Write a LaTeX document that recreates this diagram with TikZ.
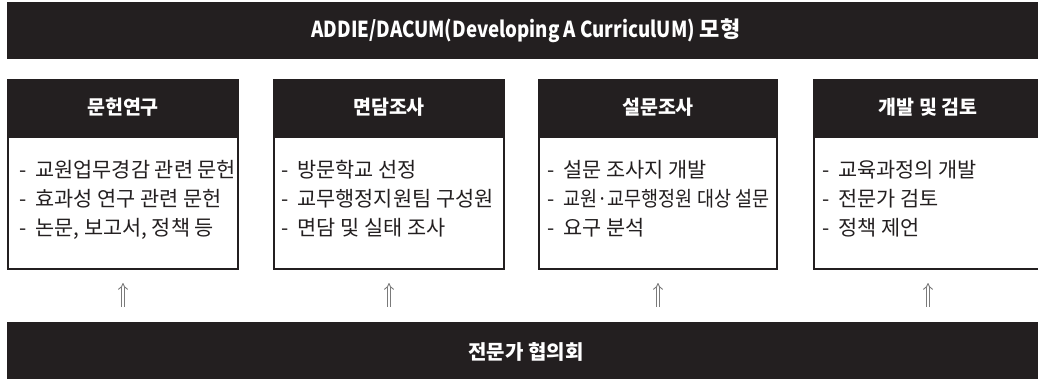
\documentclass[tikz,border=0pt]{standalone}
\usepackage{fontspec}
\usepackage{graphicx}
\setmainfont{Noto Sans CJK KR}
\usetikzlibrary{arrows.meta,calc}
\definecolor{ink}{HTML}{231F20}
\definecolor{arrowgray}{HTML}{7A7A7A}
\newcommand\itm{-\hspace{9pt}}
\begin{document}
\begin{tikzpicture}[x=1pt,y=-1pt,
  bar/.style={fill=ink, draw=none, text=white, font=\bfseries\fontsize{20}{24}\selectfont, minimum width=1038pt, inner sep=0},
  head/.style={fill=ink, draw=none, text=white, font=\bfseries\fontsize{19.5}{23}\selectfont, minimum height=57pt, inner sep=0},
  body/.style={draw=ink, line width=1.8pt, fill=white, inner sep=0, minimum height=132.2pt},
  items/.style={text=ink, font=\fontsize{20.8}{29}\selectfont, align=left, anchor=north west, inner sep=0},
  up/.style={draw=arrowgray, double=white, line width=0.9pt, double distance=2.6pt, -{Implies[length=7pt, width=15pt]}, shorten <=15pt, shorten >=13pt}]
\clip (0,0) rectangle (1038,378);
\fill[white] (0,0) rectangle (1038,378);
\node[bar, minimum height=57pt, font=\bfseries\fontsize{22}{26}\selectfont] (top) at (526,30.5) {\scalebox{0.85}[1]{ADDIE/DACUM(Developing A CurriculUM)} 모형};
\node[bar, minimum height=60pt] (bottom) at (526,352) {전문가 협의회};
% box 1
\node[body, minimum width=230.2pt] (b1) at (123,203) {};
\node[head, minimum width=232pt] (h1) at (123,107.5) {문헌연구};
\node[items] (t1) at (19,160.5) {\itm 교원업무경감 관련 문헌\\ \itm 효과성 연구 관련 문헌\\ \itm 논문, 보고서, 정책 등};
% box 2
\node[body, minimum width=230.2pt] (b2) at (389,203) {};
\node[head, minimum width=232pt] (h2) at (389,107.5) {면담조사};
\node[items] (t2) at (281,160.5) {\itm 방문학교 선정\\ \itm 교무행정지원팀 구성원\\ \itm 면담 및 실태 조사};
% box 3
\node[body, minimum width=238.2pt] (b3) at (658,203) {};
\node[head, minimum width=240pt] (h3) at (658,107.5) {설문조사};
\node[items] (t3) at (547,160.5) {\itm 설문 조사지 개발\\ \itm \scalebox{0.89}[1]{교원·교무행정원 대상 설문}\\ \itm 요구 분석};
% box 4
\node[body, minimum width=228.2pt] (b4) at (928,203) {};
\node[head, minimum width=230pt] (h4) at (928,107.5) {개발 및 검토};
\node[items] (t4) at (822,160.5) {\itm 교육과정의 개발\\ \itm 전문가 검토\\ \itm 정책 제언};
% arrows
\draw[up] (bottom.north -| b1.south) -- (b1.south);
\draw[up] (bottom.north -| b2.south) -- (b2.south);
\draw[up] (bottom.north -| b3.south) -- (b3.south);
\draw[up] (bottom.north -| b4.south) -- (b4.south);
\end{tikzpicture}
\end{document}
